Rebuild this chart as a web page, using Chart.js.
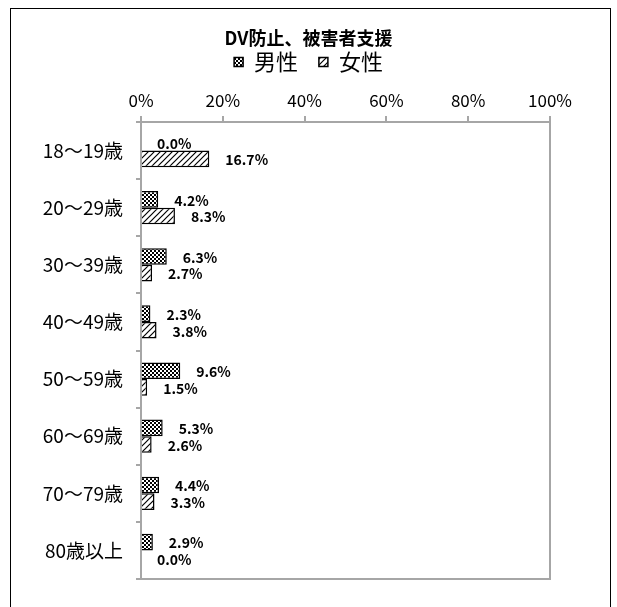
<!DOCTYPE html>
<html>
<head>
<meta charset="utf-8">
<script src="https://cdn.jsdelivr.net/npm/chart.js@4.4.1/dist/chart.umd.min.js"></script>
<style>
  html, body { margin: 0; padding: 0; background: #fff; }
  #frame { position: absolute; left: 10px; top: 8px; width: 601px; height: 640px; border: 1.5px solid #000; box-sizing: border-box; }
  #wrap { position: absolute; left: 0; top: 0; width: 617px; height: 607px; }
</style>
</head>
<body>
<div id="frame"></div>
<div id="wrap"><canvas id="c" width="617" height="607"></canvas></div>
<script>
// Data
const AGES   = ['18～19歳', '20～29歳', '30～39歳', '40～49歳', '50～59歳', '60～69歳', '70～79歳', '80歳以上'];
const MALE   = [0.0, 4.2, 6.3, 2.3, 9.6, 5.3, 4.4, 2.9];
const FEMALE = [16.7, 8.3, 2.7, 3.8, 1.5, 2.6, 3.3, 0.0];
const X_TICKS = [0, 20, 40, 60, 80, 100];

const FONT = "'Noto Sans CJK JP', 'Noto Sans', sans-serif";
const AXIS = '#a6a6a6';

// Fill patterns
function checkerPattern() {
  const p = document.createElement('canvas');
  p.width = 4; p.height = 4;
  const g = p.getContext('2d');
  g.fillStyle = '#fff'; g.fillRect(0, 0, 4, 4);
  g.fillStyle = '#000';
  g.fillRect(0, 0, 2, 2);
  g.fillRect(2, 2, 2, 2);
  return g.createPattern(p, 'repeat');
}
function hatchPattern() {
  const s = 6;
  const p = document.createElement('canvas');
  p.width = s; p.height = s;
  const g = p.getContext('2d');
  g.fillStyle = '#fff'; g.fillRect(0, 0, s, s);
  g.strokeStyle = '#000'; g.lineWidth = 1.2;
  g.beginPath();
  g.moveTo(-1, s + 1); g.lineTo(s + 1, -1);
  g.moveTo(-1, 1); g.lineTo(1, -1);
  g.moveTo(s - 1, s + 1); g.lineTo(s + 1, s - 1);
  g.stroke();
  return g.createPattern(p, 'repeat');
}

// value labels right of each bar end
const valueLabels = {
  id: 'valueLabels',
  afterDatasetsDraw(chart) {
    const ctx = chart.ctx;
    ctx.save();
    ctx.font = "bold 14px " + FONT;
    ctx.fillStyle = '#000';
    ctx.textAlign = 'left';
    ctx.textBaseline = 'middle';
    chart.data.datasets.forEach((ds, i) => {
      chart.getDatasetMeta(i).data.forEach((el, j) => {
        ctx.fillText(ds.data[j].toFixed(1) + '%', el.x + 16, el.y + 1);
      });
    });
    ctx.restore();
  }
};

// plot frame (right and bottom edges)
const plotFrame = {
  id: 'plotFrame',
  beforeDatasetsDraw(chart) {
    const a = chart.chartArea, ctx = chart.ctx;
    ctx.save();
    ctx.strokeStyle = AXIS;
    ctx.lineWidth = 2;
    ctx.strokeRect(a.left, a.top, a.right - a.left, a.bottom - a.top);
    ctx.restore();
  }
};

new Chart(document.getElementById('c'), {
  type: 'bar',
  data: {
    labels: AGES,
    datasets: [
      { label: '男性', data: MALE, backgroundColor: checkerPattern(), borderColor: '#000', borderWidth: 1.5,
        categoryPercentage: 0.58, barPercentage: 1.0 },
      { label: '女性', data: FEMALE, backgroundColor: hatchPattern(), borderColor: '#000', borderWidth: 1.5,
        categoryPercentage: 0.58, barPercentage: 1.0 },
    ],
  },
  options: {
    indexAxis: 'y',
    responsive: false,
    animation: false,
    layout: { padding: { left: 0, right: 0, top: 0, bottom: 28 } },
    plugins: {
      title: {
        display: true,
        text: 'DV防止、被害者支援',
        color: '#000',
        font: { family: FONT, size: 18, weight: 'bold' },
        padding: { top: 27.2, bottom: -3.8 },
      },
      legend: {
        display: true,
        position: 'top',
        labels: {
          color: '#000',
          font: { family: FONT, size: 22 },
          boxWidth: 9,
          boxHeight: 9,
          padding: 6,
          generateLabels(chart) {
            const items = Chart.defaults.plugins.legend.labels.generateLabels(chart);
            items[0].text += '   ';
            return items;
          },
        },
      },
      tooltip: { enabled: false },
    },
    scales: {
      x: {
        position: 'top',
        min: 0,
        max: 100,
        afterBuildTicks(scale) { scale.ticks = X_TICKS.map(v => ({ value: v })); },
        afterFit(scale) { scale.height = 39; },
        ticks: {
          color: '#000',
          font: { family: FONT, size: 17 },
          padding: 5,
          callback: v => v + '%',
        },
        grid: { drawOnChartArea: false, drawTicks: true, tickLength: 6, color: AXIS, lineWidth: 2 },
        border: { display: true, color: AXIS, width: 2 },
      },
      y: {
        afterFit(scale) { scale.width = 141; },
        ticks: {
          color: '#000',
          font: { family: FONT, size: 19 },
          padding: 13,
        },
        grid: { drawOnChartArea: false, drawTicks: true, tickLength: 5, color: AXIS, lineWidth: 2, offset: true },
        border: { display: true, color: AXIS, width: 2 },
      },
      // empty right-hand margin so the title and legend centre like the original
      yRight: {
        type: 'linear',
        position: 'right',
        afterFit(scale) { scale.width = 67; },
        ticks: { display: false },
        grid: { display: false },
        border: { display: false },
      },
    },
  },
  plugins: [plotFrame, valueLabels],
});
</script>
</body>
</html>
